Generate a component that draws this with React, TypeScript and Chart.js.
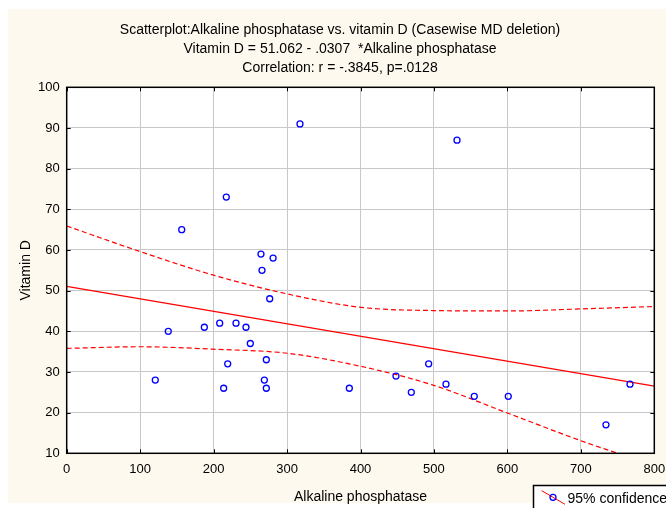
import React, { useEffect, useRef } from "react";
import { Chart, registerables } from "chart.js";

Chart.register(...registerables);

// ---- data ----
const alkPhos = [120.6, 138.3, 156.6, 187.4, 208.3, 213.7, 217.3, 219.2, 230.5, 244.1, 250, 264.5, 265.9, 269.1, 271.8, 271.8, 276.4, 281, 317.6, 384.8, 448.3, 469.2, 492.8, 516.4, 531.4, 554.9, 601.2, 734.2, 766.9];
const vitD = [28, 40, 65, 41, 42, 26, 73, 32, 42, 41, 37, 59, 55, 28, 33, 26, 48, 58, 91, 26, 29, 25, 32, 27, 87, 24, 24, 17, 27];

const fitX = [0, 800];
const fitY = [51.06, 26.5];

const upperX = [0, 100, 200, 300, 400, 500, 600, 700, 800];
const upperY = [65.9, 59.6, 53.8, 49.2, 45.9, 45.1, 45.0, 45.5, 46.1];
const lowerX = [0, 100, 200, 300, 400, 500, 600, 700, 750];
const lowerY = [35.8, 36.2, 35.6, 34.6, 31.4, 26.7, 19.9, 13.1, 10];

const xTicks = [0, 100, 200, 300, 400, 500, 600, 700, 800];
const yTicks = [10, 20, 30, 40, 50, 60, 70, 80, 90, 100];

const titleLines = [
  "Scatterplot:Alkaline phosphatase vs. vitamin D (Casewise MD deletion)",
  "Vitamin D = 51.062 - .0307  *Alkaline phosphatase",
  "Correlation: r = -.3845, p=.0128",
];
const xTitle = "Alkaline phosphatase";
const yTitle = "Vitamin D";
const legendLabel = "95% confidence";

const W = 658;
const H = 500;
const FONT = '"Liberation Sans", Arial, sans-serif';

const toPts = (xs: number[], ys: number[]) => xs.map((x, i) => ({ x, y: ys[i] }));

export default function App() {
  const ref = useRef<HTMLCanvasElement>(null);

  useEffect(() => {
    if (!ref.current) return;
    const deco = {
      id: "deco",
      beforeDraw(chart: any) {
        const { ctx, chartArea: a } = chart;
        ctx.save();
        ctx.fillStyle = "#fef9ee";
        ctx.fillRect(0, 1, W, 494);
        ctx.fillStyle = "#ffffff";
        ctx.fillRect(a.left, a.top, a.right - a.left, a.bottom - a.top);
        ctx.restore();
      },
      afterDraw(chart: any) {
        const { ctx, chartArea: a, scales } = chart;
        ctx.save();
        // border
        ctx.strokeStyle = "#000";
        ctx.lineWidth = 1.5;
        ctx.strokeRect(a.left, a.top, a.right - a.left, a.bottom - a.top);
        // inner tick marks
        ctx.lineWidth = 1;
        ctx.beginPath();
        yTicks.forEach((v) => {
          const y = Math.round(scales.y.getPixelForValue(v)) + 0.5;
          ctx.moveTo(a.left, y);
          ctx.lineTo(a.left + 4, y);
          ctx.moveTo(a.right - 4, y);
          ctx.lineTo(a.right, y);
        });
        xTicks.forEach((v) => {
          const x = Math.round(scales.x.getPixelForValue(v)) + 0.5;
          ctx.moveTo(x, a.top);
          ctx.lineTo(x, a.top + 4);
          ctx.moveTo(x, a.bottom - 4);
          ctx.lineTo(x, a.bottom);
        });
        ctx.stroke();

        // titles
        ctx.fillStyle = "#000";
        ctx.font = `14px ${FONT}`;
        ctx.textAlign = "center";
        ctx.textBaseline = "middle";
        const ty = [22.5, 41.5, 60.5];
        titleLines.forEach((t, i) => ctx.fillText(t, 332, ty[i]));

        // axis titles
        ctx.textBaseline = "alphabetic";
        ctx.fillText(xTitle, (a.left + a.right) / 2, 492.5);
        ctx.save();
        ctx.translate(22, (a.top + a.bottom) / 2);
        ctx.rotate(-Math.PI / 2);
        ctx.fillText(yTitle, 0, 0);
        ctx.restore();

        // legend box (partly outside view)
        ctx.fillStyle = "#ffffff";
        ctx.fillRect(525.5, 477.5, 200, 40);
        ctx.strokeStyle = "#000";
        ctx.lineWidth = 1.5;
        ctx.strokeRect(525.5, 477.5, 200, 40);
        ctx.strokeStyle = "#ff0000";
        ctx.lineWidth = 1;
        ctx.beginPath();
        ctx.moveTo(533.7, 482.7);
        ctx.lineTo(557, 496.3);
        ctx.stroke();
        ctx.strokeStyle = "#0000ff";
        ctx.lineWidth = 1.3;
        ctx.beginPath();
        ctx.arc(545, 489.3, 3, 0, Math.PI * 2);
        ctx.stroke();
        ctx.fillStyle = "#000";
        ctx.textAlign = "left";
        ctx.textBaseline = "alphabetic";
        ctx.font = `14px ${FONT}`;
        ctx.fillText(legendLabel, 559.5, 495);
        ctx.restore();
      },
    };

    const chart = new Chart(ref.current, {
      type: "scatter",
      data: {
        datasets: [
          {
            label: "points",
            data: toPts(alkPhos, vitD),
            showLine: false,
            pointStyle: "circle",
            pointRadius: 3,
            pointBorderWidth: 1.3,
            borderColor: "#0000ff",
            backgroundColor: "rgba(0,0,0,0)",
            order: 0,
          } as any,
          {
            type: "line",
            label: "fit",
            data: toPts(fitX, fitY),
            borderColor: "#ff0000",
            borderWidth: 1.2,
            pointRadius: 0,
            fill: false,
            order: 1,
          } as any,
          {
            type: "line",
            label: "upper",
            data: toPts(upperX, upperY),
            borderColor: "#ff0000",
            borderWidth: 1.2,
            borderDash: [5, 3],
            pointRadius: 0,
            cubicInterpolationMode: "monotone",
            fill: false,
            order: 2,
          } as any,
          {
            type: "line",
            label: "lower",
            data: toPts(lowerX, lowerY),
            borderColor: "#ff0000",
            borderWidth: 1.2,
            borderDash: [5, 3],
            pointRadius: 0,
            cubicInterpolationMode: "monotone",
            fill: false,
            order: 3,
          } as any,
        ],
      },
      options: {
        responsive: false,
        animation: false,
        devicePixelRatio: 1,
        layout: { padding: { top: 79.3, right: 11.7, left: 0, bottom: 0 } },
        plugins: {
          legend: { display: false },
          title: { display: false },
          tooltip: { enabled: false },
        },
        scales: {
          x: {
            type: "linear",
            min: 0,
            max: 800,
            afterBuildTicks: (s: any) => {
              s.ticks = xTicks.map((v) => ({ value: v }));
            },
            afterFit: (s: any) => {
              s.height = 54.7;
              s.paddingLeft = 0;
              s.paddingRight = 0;
            },
            ticks: {
              color: "#000",
              font: { family: FONT, size: 13 },
              padding: 8,
              maxRotation: 0,
              autoSkip: false,
            },
            grid: { color: "#c8c8c8", lineWidth: 1, drawTicks: false },
            border: { display: false },
          },
          y: {
            type: "linear",
            min: 10,
            max: 100,
            afterBuildTicks: (s: any) => {
              s.ticks = yTicks.map((v) => ({ value: v }));
            },
            afterFit: (s: any) => {
              s.width = 58.7;
            },
            ticks: {
              color: "#000",
              font: { family: FONT, size: 13 },
              padding: 7,
              autoSkip: false,
            },
            grid: { color: "#c8c8c8", lineWidth: 1, drawTicks: false },
            border: { display: false },
          },
        },
      } as any,
      plugins: [deco],
    });
    return () => chart.destroy();
  }, []);

  return (
    <div style={{ position: "fixed", left: 8, top: 8, width: W, height: H }}>
      <canvas ref={ref} width={W} height={H} style={{ display: "block", width: W, height: H }} />
    </div>
  );
}
